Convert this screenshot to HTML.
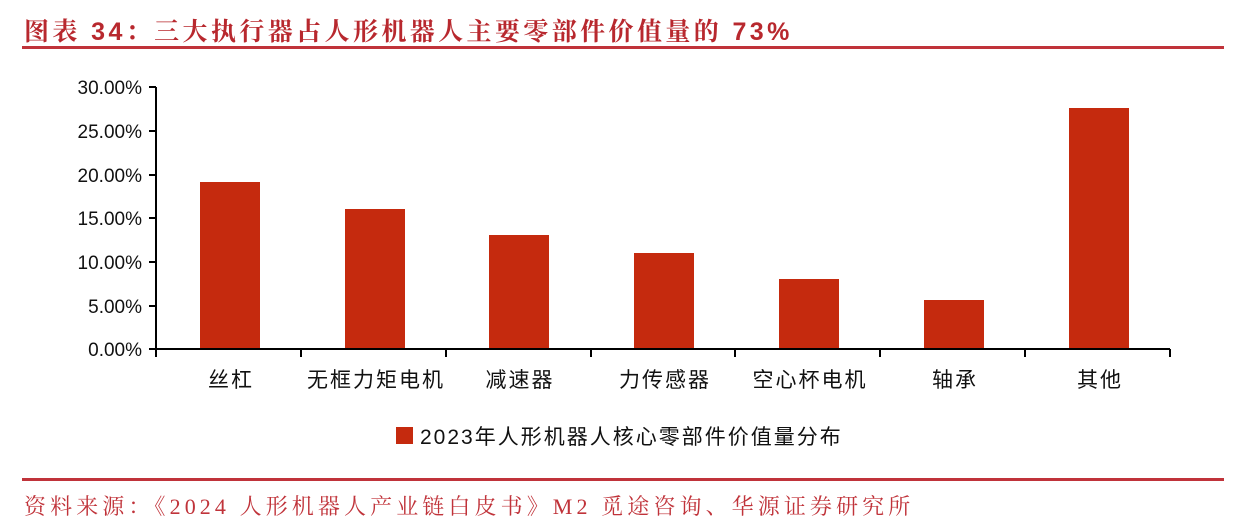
<!DOCTYPE html>
<html><head><meta charset="utf-8"><style>
body{margin:0;width:1246px;height:530px;background:#fff;overflow:hidden;position:relative;font-family:"Liberation Sans","Noto Sans CJK SC",sans-serif}
.t{position:absolute;left:24px;top:12px;font-size:25px;font-weight:bold;color:#b8282e;font-family:"Liberation Sans","Noto Serif CJK SC",serif;letter-spacing:3.4px;white-space:nowrap}
.l{position:absolute;left:22px;width:1202px;height:3px;background:#c0333a}
.s{position:absolute;left:24px;top:490px;font-size:22px;color:#c0333a;font-family:"Liberation Serif","Noto Serif CJK SC",serif;white-space:nowrap;letter-spacing:4.1px}
</style></head><body>
<div class="t">图表 34：三大执行器占人形机器人主要零部件价值量的 73%</div>
<div class="l" style="top:46px"></div>
<svg width="1246" height="530" style="position:absolute;left:0;top:0" font-family="Liberation Sans, Noto Sans CJK SC, sans-serif">
<g font-size="19" fill="#111" text-anchor="end">
<text x="142" y="94">30.00%</text><text x="142" y="138">25.00%</text><text x="142" y="182">20.00%</text><text x="142" y="225">15.00%</text><text x="142" y="269">10.00%</text><text x="142" y="313">5.00%</text><text x="142" y="356">0.00%</text>
</g>
<g fill="#c52a0e">
<rect x="200" y="182" width="60" height="167"/><rect x="345" y="209" width="60" height="140"/><rect x="489" y="235" width="60" height="114"/><rect x="634" y="253" width="60" height="96"/><rect x="779" y="279" width="60" height="70"/><rect x="924" y="300" width="60" height="49"/><rect x="1069" y="108" width="60" height="241"/>
</g>
<g stroke="#000" stroke-width="2" fill="none">
<path d="M156 87V357M149 87H156M149 131H156M149 175H156M149 218H156M149 262H156M149 306H156M149 349H1170"/>
<path d="M301 349v8M446 349v8M591 349v8M735 349v8M880 349v8M1025 349v8M1170 349v8"/>
</g>
<g font-size="21" fill="#111" text-anchor="middle" letter-spacing="2">
<text x="231" y="387">丝杠</text><text x="376" y="387">无框力矩电机</text><text x="520" y="387">减速器</text><text x="665" y="387">力传感器</text><text x="810" y="387">空心杯电机</text><text x="955" y="387">轴承</text><text x="1100" y="387">其他</text>
</g>
<rect x="396" y="427" width="17" height="17" fill="#c52a0e"/>
<text x="420" y="444" font-size="21" fill="#111" letter-spacing="2">2023年人形机器人核心零部件价值量分布</text>
</svg>
<div class="l" style="top:478px"></div>
<div class="s">资料来源：《2024 人形机器人产业链白皮书》M2 觅途咨询、华源证券研究所</div>
</body></html>
